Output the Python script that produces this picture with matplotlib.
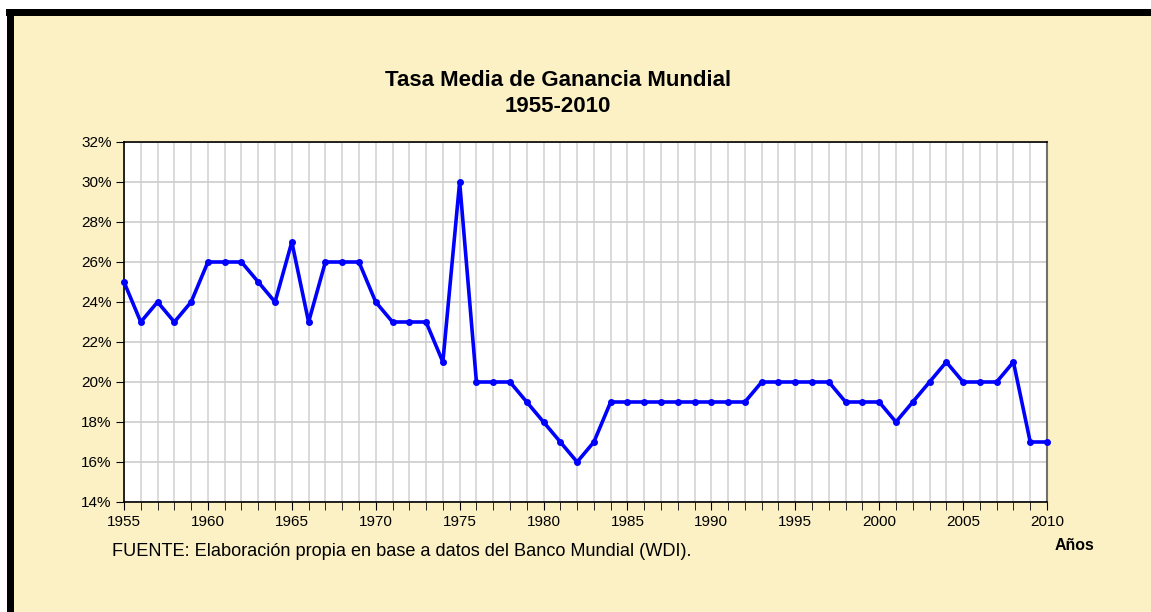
import matplotlib.pyplot as plt
from matplotlib.patches import Rectangle
from matplotlib.ticker import MultipleLocator, FuncFormatter

years = list(range(1955, 2011))
rates = [25, 23, 24, 23, 24, 26, 26, 26, 25, 24,
         27, 23, 26, 26, 26, 24, 23, 23, 23, 21,
         30, 20, 20, 20, 19, 18, 17, 16, 17, 19,
         19, 19, 19, 19, 19, 19, 19, 19, 20, 20,
         20, 20, 20, 19, 19, 19, 18, 19, 20, 21,
         20, 20, 20, 21, 17, 17]

plt.rcParams['font.family'] = ['Liberation Sans', 'DejaVu Sans']

W, H = 1151, 612
fig = plt.figure(figsize=(W / 100, H / 100), dpi=100)
fig.patch.set_facecolor('white')

# cream panel with thick black border on top and left
fig.patches.append(Rectangle((10 / W, 0), 1, 1 - 12 / H, transform=fig.transFigure,
                             facecolor='#fcf1c4', edgecolor='none', zorder=0))
fig.patches.append(Rectangle((6 / W, 1 - 16 / H), 1, 7 / H, transform=fig.transFigure,
                             facecolor='black', edgecolor='none', zorder=1))
fig.patches.append(Rectangle((7 / W, 0), 7 / W, 1 - 9 / H, transform=fig.transFigure,
                             facecolor='black', edgecolor='none', zorder=1))

ax = fig.add_axes([124 / W, 1 - 502 / H, (1047 - 124) / W, (502 - 142) / H])
ax.set_zorder(5)
ax.set_facecolor('white')
ax.plot(years, rates, color='#0000ff', lw=2.6, marker='o', ms=4, clip_on=False, zorder=3)

ax.set_xlim(1955, 2010)
ax.set_ylim(14, 32)
ax.xaxis.set_major_locator(MultipleLocator(5))
ax.xaxis.set_minor_locator(MultipleLocator(1))
ax.yaxis.set_major_locator(MultipleLocator(2))
ax.yaxis.set_major_formatter(FuncFormatter(lambda v, p: f"{v:.0f}%"))
ax.grid(True, which='both', axis='x', color='#d4d4d4', lw=1.2)
ax.grid(True, which='major', axis='y', color='#cccccc', lw=1.2)
ax.set_axisbelow(True)

ax.tick_params(axis='both', which='both', direction='out', color='black', labelsize=11)
ax.tick_params(axis='x', which='major', length=6, pad=3)
ax.tick_params(axis='x', which='minor', length=6)
ax.tick_params(axis='y', length=6, pad=3)
for s in ['left', 'bottom', 'top']:
    ax.spines[s].set_color('black')
    ax.spines[s].set_linewidth(1.2)
ax.spines['right'].set_color('#707070')
ax.spines['right'].set_linewidth(1.5)

fig.text(558 / W, 1 - 80 / H, 'Tasa Media de Ganancia Mundial', ha='center', va='center',
         fontsize=16, fontweight='bold')
fig.text(558 / W, 1 - 106 / H, '1955-2010', ha='center', va='center',
         fontsize=16, fontweight='bold')
fig.text(112 / W, 1 - 552 / H, 'FUENTE: Elaboración propia en base a datos del Banco Mundial (WDI).',
         ha='left', va='center', fontsize=13.1)
fig.text(1074 / W, 1 - 546 / H, 'Años', ha='center', va='center', fontsize=11.4, fontweight='bold')

fig.savefig('out.png', dpi=100, facecolor=fig.get_facecolor())
